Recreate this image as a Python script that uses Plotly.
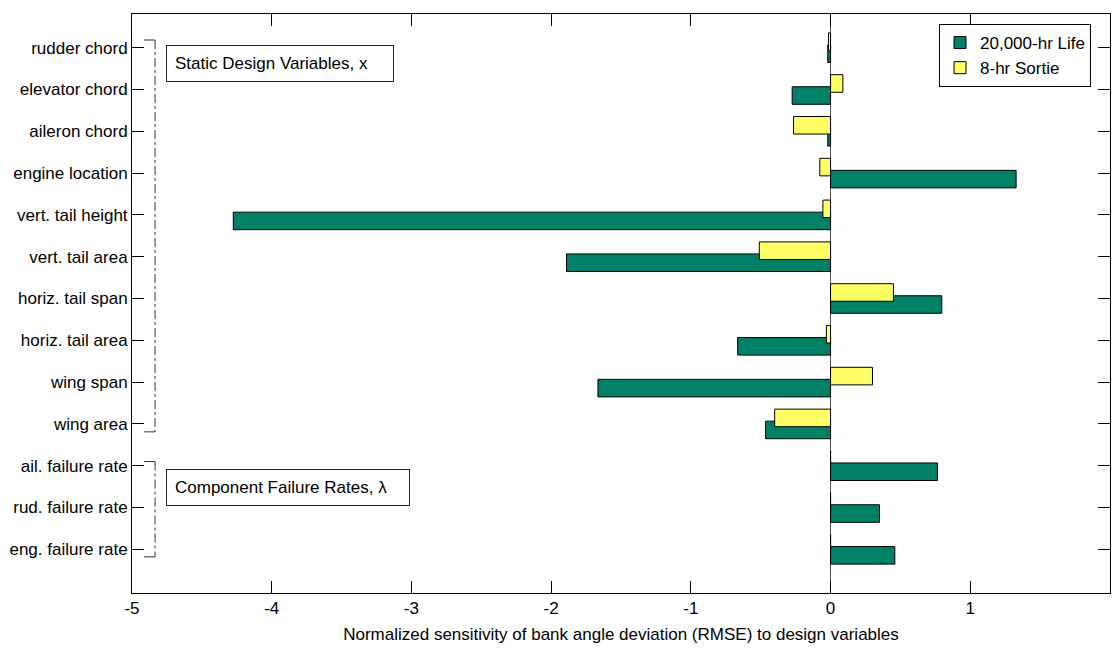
import plotly.graph_objects as go

categories = ["rudder chord", "elevator chord", "aileron chord", "engine location",
              "vert. tail height", "vert. tail area", "horiz. tail span", "horiz. tail area",
              "wing span", "wing area", "ail. failure rate", "rud. failure rate",
              "eng. failure rate"]
life_20000hr = [-0.02, -0.275, -0.02, 1.328, -4.275, -1.89, 0.796, -0.665, -1.665,
                -0.465, 0.765, 0.35, 0.46]
sortie_8hr = [-0.015, 0.088, -0.265, -0.077, -0.055, -0.51, 0.45, -0.03, 0.30,
              -0.40, 0.0, 0.0, 0.0]
x_ticks = [-5, -4, -3, -2, -1, 0, 1, 2]
series_names = ["20,000-hr Life", "8-hr Sortie"]

FONT = "Liberation Sans, Arial, Helvetica, sans-serif"
pos = list(range(len(categories)))

fig = go.Figure()
fig.add_trace(go.Bar(
    name=series_names[0], x=life_20000hr, y=pos, orientation="h",
    width=0.42, offset=-0.066,
    marker=dict(color="#008066", line=dict(color="black", width=1)),
))
fig.add_trace(go.Bar(
    name=series_names[1], x=sortie_8hr, y=pos, orientation="h",
    width=0.42, offset=-0.354,
    marker=dict(color="#FFFF66", line=dict(color="black", width=1)),
))

# group brackets
bx, bx0 = -4.835, -4.914
for y0, y1 in [(-0.184, 9.19), (9.90, 12.18)]:
    fig.add_shape(type="line", x0=bx, x1=bx, y0=y0, y1=y1, xref="x", yref="y",
                  line=dict(color="#333", width=1, dash="dashdot"))
    for yy in (y0, y1):
        fig.add_shape(type="line", x0=bx0, x1=bx, y0=yy, y1=yy, xref="x", yref="y",
                      line=dict(color="#333", width=1))

fig.add_annotation(x=-4.757, y=0.378, xref="x", yref="y", xanchor="left", yanchor="middle",
                   text="Static Design Variables, x", showarrow=False, align="left",
                   width=210, borderpad=8, bordercolor="#222", borderwidth=1,
                   bgcolor="white", font=dict(family=FONT, size=17, color="black"))
fig.add_annotation(x=-4.757, y=10.51, xref="x", yref="y", xanchor="left", yanchor="middle",
                   text="Component Failure Rates, λ", showarrow=False, align="left",
                   width=226, borderpad=8, bordercolor="#222", borderwidth=1,
                   bgcolor="white", font=dict(family=FONT, size=17, color="black"))

fig.update_layout(
    width=1112, height=648, autosize=False,
    margin=dict(l=132, r=2, t=14, b=55),
    paper_bgcolor="white", plot_bgcolor="white",
    barmode="overlay",
    font=dict(family=FONT, size=17, color="black"),
    showlegend=True,
    legend=dict(x=0.9806, y=0.9827, xanchor="right", yanchor="top",
                bordercolor="black", borderwidth=1, bgcolor="white",
                font=dict(family=FONT, size=17, color="black"),
                tracegroupgap=0),
    xaxis=dict(range=[-5, 2], tickvals=x_ticks, ticktext=[str(v) for v in x_ticks],
               ticks="inside", ticklen=12, tickcolor="black", mirror="ticks",
               showline=True, linecolor="black", linewidth=1, showgrid=False,
               zeroline=True, zerolinecolor="#555", zerolinewidth=1, automargin=False,
               title=dict(text="Normalized sensitivity of bank angle deviation (RMSE) to design variables",
                          standoff=10, font=dict(family=FONT, size=17))),
    yaxis=dict(range=[13.045, -0.806], tickvals=pos, ticktext=categories,
               ticks="inside", ticklen=12, tickcolor="black", mirror="ticks",
               showline=True, linecolor="black", linewidth=1, showgrid=False,
               zeroline=False, automargin=False),
)

fig.write_html(
    "out.html",
    config={"responsive": False, "displayModeBar": False},
    default_width="1112px", default_height="648px",
    post_script="document.body.style.margin='0';document.body.style.overflow='hidden';",
)
